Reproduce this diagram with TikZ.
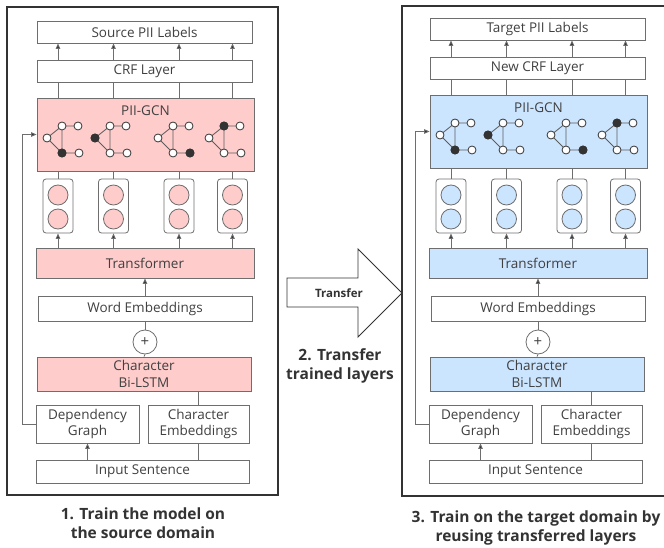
\documentclass[tikz,border=0pt]{standalone}
\usepackage{fontspec}
\setmainfont{Open Sans}
\usetikzlibrary{arrows.meta,calc}
\definecolor{pinkf}{HTML}{FFCCCC}
\definecolor{bluef}{HTML}{CCE5FF}
\definecolor{bord}{HTML}{6E6E6E}
\definecolor{txt}{HTML}{404040}
\definecolor{gdark}{HTML}{333333}
\tikzset{
  box/.style={draw=bord,line width=0.8pt,inner sep=0pt,align=center,text=txt,font=\fontsize{13.5}{16.5}\selectfont},
  cellbox/.style={draw=bord,line width=0.8pt,rounded corners=3pt,minimum width=30pt,minimum height=54pt,inner sep=0pt},
  conn/.style={draw=bord,line width=0.8pt},
  arr/.style={conn,-{Triangle[length=5.5pt,width=4.5pt,fill=gdark]}},
  gedge/.style={draw=gdark!80,line width=0.8pt},
  gnode/.style={draw=gdark,line width=0.8pt,fill=white},
  captext/.style={align=center,text=gdark,font=\bfseries\fontsize{15.5}{19}\selectfont},
  panelbox/.style={draw=gdark,line width=1.4pt}
}
\newcommand\gly[3]{%
  \begin{scope}[shift={(#1,#2)}]
    \draw[gedge] (-15,0) -- (0,-12) -- (16,-12) (0,-12) -- (0,15) -- (17,15) (-15,0) -- (0,15);
    \foreach \p in {(-15,0),(0,-12),(16,-12),(0,15),(17,15)} \draw[gnode] \p circle[radius=4pt];
    \draw[gnode,fill=gdark] (#3) circle[radius=4pt];
  \end{scope}}
% #1 prefix, #2 dx, #3 dy of top part, #4 fill, #5 label text, #6 crf text
\newcommand\panel[6]{%
  \begin{scope}[xshift=#2pt]
    \node[box,minimum width=215pt,minimum height=22pt] (#1lab) at (144.5,32+#3) {#5};
    \node[box,minimum width=215pt,minimum height=22pt] (#1crf) at (144.5,71+#3) {#6};
    \node[box,fill=#4,minimum width=217pt,minimum height=73pt] (#1gcn) at (145.5,134.5+#3) {};
    \node[text=txt,font=\fontsize{13.5}{16.5}\selectfont,inner sep=0pt] (#1gcnt) at (145.5,111+#3) {PII-GCN};
    \gly{62}{138+#3}{0,15}
    \gly{110}{138+#3}{-15,0}
    \gly{173}{138+#3}{17,15}
    \gly{224}{138+#3}{0,-12}
    \foreach \i/\x in {1/58,2/113.5,3/179,4/232.5}{
      \node[cellbox] (#1cell\i) at (\x,206) {};
      \node[circle,draw=bord,line width=0.8pt,fill=#4,minimum size=20pt,inner sep=0pt] (#1ca\i) at (\x,195) {};
      \node[circle,draw=bord,line width=0.8pt,fill=#4,minimum size=20pt,inner sep=0pt] (#1cb\i) at (\x,219) {};
    }
    \node[box,fill=#4,minimum width=218pt,minimum height=30pt] (#1trans) at (145,263) {Transformer};
    \node[box,minimum width=214pt,minimum height=25pt] (#1we) at (145,308.5) {Word Embeddings};
    \node[circle,draw=bord,line width=0.8pt,minimum size=24pt,inner sep=0pt,text=txt,font=\fontsize{15}{15}\selectfont] (#1plus) at (145,342) {+};
    \node[box,fill=#4,minimum width=214pt,minimum height=34pt] (#1lstm) at (144,374) {Character\\Bi-LSTM};
    \node[box,minimum width=103pt,minimum height=38pt] (#1dep) at (87.5,424) {Dependency\\Graph};
    \node[box,minimum width=101pt,minimum height=38pt] (#1ce) at (198.5,424) {Character\\Embeddings};
    \node[box,minimum width=213pt,minimum height=23pt] (#1inp) at (142.5,471.5) {Input Sentence};
    \foreach \i in {1,2,3,4}{
      \draw[arr] (#1crf.north -| #1cell\i) -- (#1lab.south -| #1cell\i);
      \draw[conn] (#1gcn.north -| #1cell\i) -- (#1crf.south -| #1cell\i);
      \draw[conn] (#1gcn.south -| #1cell\i) -- (#1cell\i.north);
      \draw[arr] (#1trans.north -| #1cell\i) -- (#1cell\i.south);
    }
    \draw[arr] (#1we.north) -- (#1trans.south);
    \draw[conn] (#1we.south) -- (#1plus.north);
    \draw[conn] (#1plus.south) -- (#1lstm.north);
    \draw[conn] (#1ce.north) -- (#1ce.north |- #1lstm.south);
    \draw[conn] (#1ce.south) -- (#1ce.south |- #1inp.north);
    \draw[arr] (#1dep.south |- #1inp.north) -- (#1dep.south);
    \draw[arr] (#1dep.west) -- ++(-13.5,0) |- (#1gcn.west);
  \end{scope}}
\begin{document}
\begin{tikzpicture}[x=1pt,y=-1pt]
  \useasboundingbox (0,0) rectangle (664,548);
  \draw[panelbox] (7,7) rectangle (278,495);
  \draw[panelbox] (402,6) rectangle (680,496);
  \panel{L}{0}{0}{pinkf}{Source PII Labels}{CRF Layer}
  \panel{R}{393}{-3}{bluef}{Target PII Labels}{New CRF Layer}
  \draw[draw=gdark,line width=0.9pt,fill=white] (287,278) -- (358,278) -- (358,249) -- (402,293) -- (358,337) -- (358,307) -- (287,307) -- cycle;
  \node[text=gdark,font=\bfseries\fontsize{11.5}{13}\selectfont] (tr) at (339,293) {Transfer};
  \node[captext] (c2) at (340,366) {2. Transfer\\trained layers};
  \node[captext] (c1) at (143,523) {1. Train the model on\\the source domain};
  \node[captext] (c3) at (536,528) {3. Train on the target domain by\\reusing transferred layers};
\end{tikzpicture}
\end{document}
